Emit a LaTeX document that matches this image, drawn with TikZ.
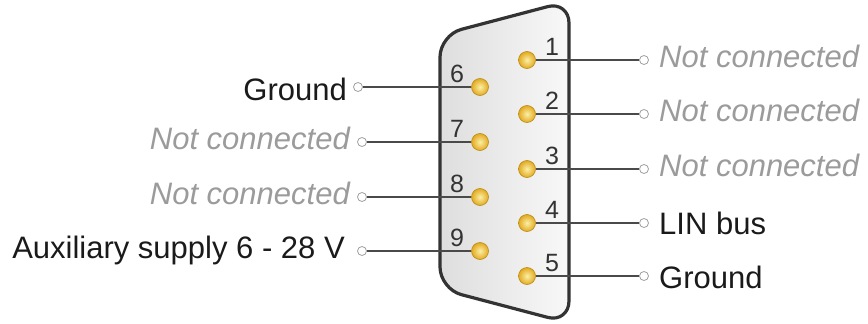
\documentclass[tikz,border=0pt]{standalone}
\usepackage{fontspec}
\setmainfont{Liberation Sans}
\usepackage{tikz}
\usetikzlibrary{calc}
\definecolor{shellline}{HTML}{333333}
\definecolor{shellleft}{HTML}{DEDEDE}
\definecolor{shellright}{HTML}{F8F8F8}
\definecolor{pingold}{HTML}{E3AA1E}
\definecolor{pinlight}{HTML}{FBEFA8}
\definecolor{pinline}{HTML}{B88A1A}
\definecolor{numgray}{HTML}{333333}
\definecolor{wiregray}{HTML}{4A4A4A}
\definecolor{termgray}{HTML}{A0A0A0}
\definecolor{lblblack}{HTML}{1A1A1A}
\definecolor{ncgray}{HTML}{9B9B9B}

\begin{document}
\begin{tikzpicture}[x=1pt,y=-1pt,
    shell/.style={draw=shellline, line width=3.2pt, rounded corners=22pt, left color=shellleft, right color=shellright},
    pin/.style={circle, minimum size=17pt, inner sep=0pt, draw=pinline, line width=0.6pt, shading=radial, inner color=pinlight, outer color=pingold},
    num/.style={inner sep=0pt, text=numgray, font=\fontsize{25}{30}\selectfont},
    term/.style={circle, minimum size=9pt, inner sep=0pt, draw=termgray, line width=0.8pt, fill=white},
    wire/.style={draw=wiregray, line width=2pt},
    lbl/.style={inner sep=0pt, text=lblblack, font=\fontsize{31}{36}\selectfont},
    nc/.style={inner sep=0pt, text=ncgray, font=\fontsize{31}{36}\selectfont\itshape}]
                \useasboundingbox (0,0) rectangle (868,324);

                % connector shell
                \draw[shell] (440,35) -- (569,1) -- (569,323) -- (440,289) -- cycle;

                % pins 1-5
                \node[pin] (p1) at (527,60) {};
                \node[pin] (p2) at (527,114) {};
                \node[pin] (p3) at (527,169) {};
                \node[pin] (p4) at (527,223) {};
                \node[pin] (p5) at (527,276) {};
                % pins 6-9
                \node[pin] (p6) at (480,87) {};
                \node[pin] (p7) at (480,142) {};
                \node[pin] (p8) at (480,197) {};
                \node[pin] (p9) at (480,251) {};

                \node[num] (n1) at ($(p1)+(25,-13)$) {1};
                \node[num] (n2) at ($(p2)+(25,-13)$) {2};
                \node[num] (n3) at ($(p3)+(25,-13)$) {3};
                \node[num] (n4) at ($(p4)+(25,-13)$) {4};
                \node[num] (n5) at ($(p5)+(25,-13)$) {5};
                \node[num] (n6) at ($(p6)+(-23,-13)$) {6};
                \node[num] (n7) at ($(p7)+(-23,-13)$) {7};
                \node[num] (n8) at ($(p8)+(-23,-13)$) {8};
                \node[num] (n9) at ($(p9)+(-23,-13)$) {9};

                % terminals
                \node[term] (t1) at (644,60) {};
                \node[term] (t2) at (644,114) {};
                \node[term] (t3) at (644,169) {};
                \node[term] (t4) at (644,223) {};
                \node[term] (t5) at (644,276) {};
                \node[term] (t6) at (358,87) {};
                \node[term] (t7) at (362,142) {};
                \node[term] (t8) at (362,197) {};
                \node[term] (t9) at (362,251) {};

                \draw[wire] (p1) -- (t1);
                \draw[wire] (p2) -- (t2);
                \draw[wire] (p3) -- (t3);
                \draw[wire] (p4) -- (t4);
                \draw[wire] (p5) -- (t5);
                \draw[wire] (p6) -- (t6);
                \draw[wire] (p7) -- (t7);
                \draw[wire] (p8) -- (t8);
                \draw[wire] (p9) -- (t9);

                % signals
                \node[nc, anchor=base west] (l1) at ($(t1)+(15,7)$) {Not connected};
                \node[nc, anchor=base west] (l2) at ($(t2)+(15,7)$) {Not connected};
                \node[nc, anchor=base west] (l3) at ($(t3)+(15,7)$) {Not connected};
                \node[lbl, anchor=base west] (l4) at ($(t4)+(15,11)$) {LIN bus};
                \node[lbl, anchor=base west] (l5) at ($(t5)+(15,12)$) {Ground};
                \node[lbl, anchor=base east] (l6) at ($(t6)+(-11,13)$) {Ground};
                \node[nc, anchor=base east] (l7) at ($(t7)+(-12,7)$) {Not connected};
                \node[nc, anchor=base east] (l8) at ($(t8)+(-12,7)$) {Not connected};
                \node[lbl, anchor=base east] (l9) at ($(t9)+(-17,7)$) {Auxiliary supply 6 - 28 V};
            \end{tikzpicture}
\end{document}
